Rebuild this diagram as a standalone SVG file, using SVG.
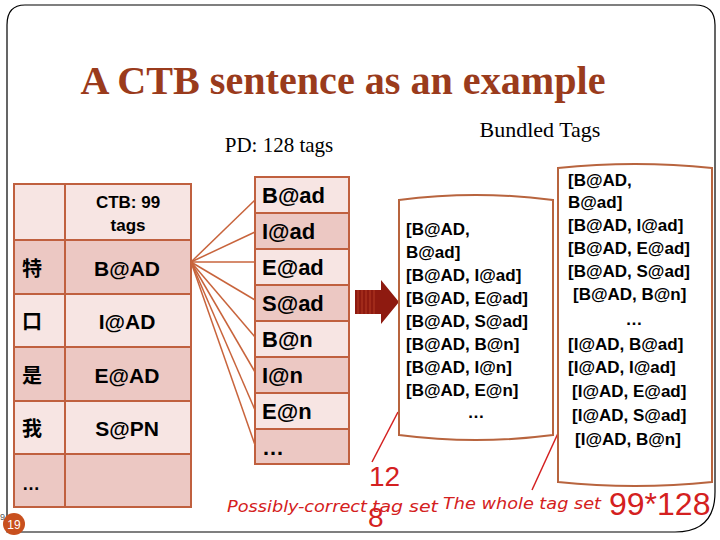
<svg xmlns="http://www.w3.org/2000/svg" width="720" height="540" viewBox="0 0 720 540">
<style>
.t{font-family:"Liberation Sans",Arial,sans-serif;font-weight:bold;fill:#000}
.s{font-family:"Liberation Serif","Times New Roman",serif;font-weight:bold}
.c{stroke:#c0603f;stroke-width:2}
.l{fill:#f7e5e3}.d{fill:#ecc8c3}
.h{font-family:"DejaVu Sans",sans-serif;font-style:italic;fill:#d42020;font-size:16px}
.b{fill:#fff;stroke:#b8643e;stroke-width:2}
.cjk{font-family:"Noto Sans CJK SC",sans-serif;font-weight:bold;font-size:20px}
</style>
<rect width="720" height="540" fill="#fff"/>
<path d="M25,5 H695 Q715,5 715,25 V492 Q715,532 675,532 H7 V25 Q7,5 25,5 Z" fill="none" stroke="#000" stroke-width="1.2"/>
<text x="343" y="94" text-anchor="middle" class="s" font-size="40" fill="#9a3b1c" textLength="525" lengthAdjust="spacingAndGlyphs">A CTB sentence as an example</text>
<text x="279" y="152" text-anchor="middle" font-family="Liberation Serif,serif" font-size="21">PD: 128 tags</text>
<text x="540" y="137" text-anchor="middle" font-family="Liberation Serif,serif" font-size="22">Bundled Tags</text>
<g id="ctb-table">
<rect x="14" y="184" width="177" height="56" class="l c"/>
<rect x="14" y="240" width="177" height="54" class="d c"/>
<rect x="14" y="294" width="177" height="53" class="l c"/>
<rect x="14" y="347" width="177" height="54" class="d c"/>
<rect x="14" y="401" width="177" height="53" class="l c"/>
<rect x="14" y="454" width="177" height="53" class="d c"/>
<line x1="65" y1="184" x2="65" y2="507" class="c"/>
<text x="128" y="208" text-anchor="middle" class="t" font-size="17">CTB: 99</text>
<text x="128" y="231" text-anchor="middle" class="t" font-size="17">tags</text>
<text x="22" y="276" class="cjk">特</text>
<text x="22" y="329" class="cjk">口</text>
<text x="22" y="383" class="cjk">是</text>
<text x="22" y="436" class="cjk">我</text>
<text x="22" y="490" class="t" font-size="18">…</text>
<g class="t" font-size="21" text-anchor="middle">
<text x="127" y="276">B@AD</text>
<text x="127" y="329">I@AD</text>
<text x="127" y="383">E@AD</text>
<text x="127" y="436">S@PN</text>
</g>
</g>
<g id="pd-table">
<rect x="255" y="177" width="94" height="36" class="l c"/>
<rect x="255" y="213" width="94" height="36" class="d c"/>
<rect x="255" y="249" width="94" height="36" class="l c"/>
<rect x="255" y="285" width="94" height="36" class="d c"/>
<rect x="255" y="321" width="94" height="36" class="l c"/>
<rect x="255" y="357" width="94" height="36" class="d c"/>
<rect x="255" y="393" width="94" height="36" class="l c"/>
<rect x="255" y="429" width="94" height="35" class="d c"/>
<g class="t" font-size="22">
<text x="262" y="203">B@ad</text><text x="262" y="239">I@ad</text><text x="262" y="275">E@ad</text><text x="262" y="311">S@ad</text>
<text x="262" y="347">B@n</text><text x="262" y="383">I@n</text><text x="262" y="419">E@n</text><text x="262" y="455">…</text>
</g>
</g>
<g id="connectors" stroke="#c8643c" stroke-width="1.5" fill="none">
<line x1="191" y1="262" x2="255" y2="200"/><line x1="191" y1="262" x2="255" y2="232"/>
<line x1="191" y1="262" x2="255" y2="262"/><line x1="191" y1="262" x2="255" y2="300"/>
<line x1="191" y1="262" x2="255" y2="337"/><line x1="191" y1="262" x2="255" y2="372"/>
<line x1="191" y1="262" x2="255" y2="410"/><line x1="191" y1="262" x2="255" y2="445"/>
<g stroke="#d42020" stroke-width="1.5"><line x1="372" y1="462" x2="398" y2="412"/><line x1="532" y1="490" x2="565" y2="418"/></g>
</g>
<g id="arrow">
<path d="M355,290 H381 V280 L399,302 L381,324 V314 H355 Z" fill="#8e1a10"/>
<g stroke="#b33a25" stroke-width="1"><line x1="358" y1="290" x2="358" y2="314"/><line x1="362" y1="290" x2="362" y2="314"/><line x1="366" y1="290" x2="366" y2="314"/><line x1="370" y1="290" x2="370" y2="314"/><line x1="374" y1="290" x2="374" y2="314"/></g>
</g>
<g id="possible-set">
<path d="M399,200 Q476,190 553,200 V435 Q476,445 399,435 Z" class="b"/>
<g class="t" font-size="17">
<text x="406" y="235">[B@AD,</text><text x="406" y="258">B@ad]</text><text x="406" y="281">[B@AD, I@ad]</text>
<text x="406" y="304">[B@AD, E@ad]</text><text x="406" y="327">[B@AD, S@ad]</text><text x="406" y="350">[B@AD, B@n]</text>
<text x="406" y="373">[B@AD, I@n]</text><text x="406" y="396">[B@AD, E@n]</text><text x="476" y="418" text-anchor="middle">…</text>
</g>
</g>
<g id="whole-set">
<path d="M558,168 Q635,160 712,168 V482 Q635,490 558,482 Z" class="b"/>
<g class="t" font-size="17">
<text x="568" y="186">[B@AD,</text><text x="568" y="208">B@ad]</text>
<text x="568" y="231">[B@AD, I@ad]</text>
<text x="568" y="254">[B@AD, E@ad]</text>
<text x="568" y="277">[B@AD, S@ad]</text>
<text x="573" y="300">[B@AD, B@n]</text>
<text x="634" y="325" text-anchor="middle">…</text>
<text x="568" y="350">[I@AD, B@ad]</text>
<text x="568" y="373">[I@AD, I@ad]</text>
<text x="572" y="397">[I@AD, E@ad]</text>
<text x="572" y="421">[I@AD, S@ad]</text>
<text x="575" y="445">[I@AD, B@n]</text>
</g>
</g>
<text x="227" y="512" class="h" textLength="140" lengthAdjust="spacingAndGlyphs">Possibly-correct</text>
<text x="372" y="512" class="h" textLength="66" lengthAdjust="spacingAndGlyphs">tag set</text>
<text x="443" y="509" class="h" textLength="158" lengthAdjust="spacingAndGlyphs">The whole tag set</text>
<text x="369" y="486" font-family="Liberation Sans,sans-serif" font-size="28" fill="#d42020">12</text>
<text x="368" y="527" font-family="Liberation Sans,sans-serif" font-size="28" fill="#d42020">8</text>
<text x="609" y="515" font-family="Liberation Sans,sans-serif" font-size="32" fill="#d42020">99*128</text>
<g id="slide-num">
<circle cx="14" cy="524" r="11" fill="#c8501e"/>
<text x="14" y="529" text-anchor="middle" font-family="Liberation Sans,sans-serif" font-size="12" fill="#fff">19</text>
<text x="0" y="520" font-family="Liberation Sans,sans-serif" font-size="9" fill="#555">9</text>
</g>
</svg>
